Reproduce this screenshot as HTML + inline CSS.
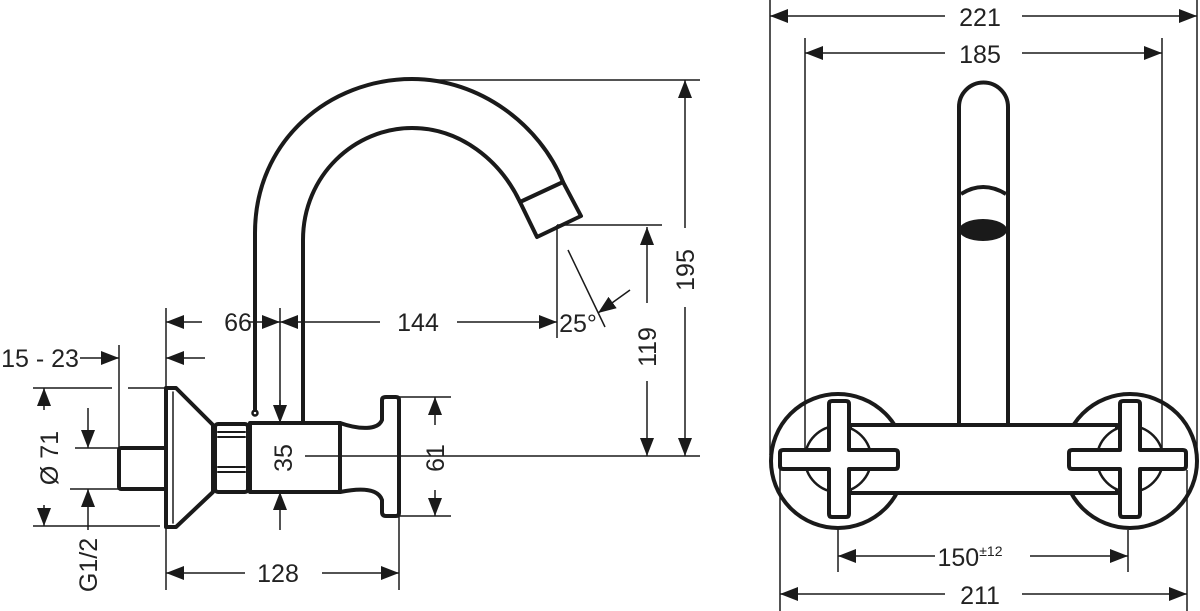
<!DOCTYPE html>
<html><head><meta charset="utf-8"><style>
html,body{margin:0;padding:0;background:#fff;}
svg{display:block;}
text{font-family:"Liberation Sans",sans-serif;font-size:25px;fill:#222;}
</style></head><body>
<svg width="1200" height="611" viewBox="0 0 1200 611" xmlns="http://www.w3.org/2000/svg">
<defs>
<marker id="a" viewBox="0 0 18 14" refX="18" refY="7" markerWidth="18" markerHeight="14" markerUnits="userSpaceOnUse" orient="auto"><path d="M0,0 L18,7 L0,14 Z" fill="#1a1a1a"/></marker>
</defs>
<g fill="none" stroke="#1a1a1a" stroke-width="4" stroke-linejoin="round" stroke-linecap="round">
<!-- spout -->
<path d="M255,410 L255,233 C255,140 330,79 412,79 C480,79 540,125 563,182"/>
<path d="M303,423 L303,240 C303,175 355,128 412,128 C460,128 500,160 520,202"/>
<path d="M520,202 L537,237 L581,216 L563,182 Z"/>
<circle cx="255" cy="413" r="2.5" stroke-width="2.5"/>
<!-- stub -->
<rect x="119" y="448" width="47" height="41" rx="2"/>
<!-- flange -->
<path d="M166,388 L176,388 L213,425 L213,492 L176,527 L166,527 Z"/>
<line x1="173" y1="392" x2="173" y2="523" stroke-width="1.5"/>
<!-- nut -->
<rect x="215" y="424" width="33" height="68" rx="3"/>
<line x1="218" y1="432" x2="245" y2="432" stroke-width="2"/>
<line x1="218" y1="437" x2="245" y2="437" stroke-width="2"/>
<line x1="218" y1="467" x2="245" y2="467" stroke-width="2"/>
<line x1="218" y1="472" x2="245" y2="472" stroke-width="2"/>
<!-- body -->
<rect x="250" y="423" width="90" height="69"/>
<path d="M340,423 C360,430 378,430 382,420 L382,400 Q382,397 386,397 L396,397 Q399,397 399,400 L399,513 Q399,516 396,516 L386,516 Q382,516 382,512 L382,500 C378,488 360,488 340,492"/>
</g>
<g stroke="#1a1a1a" stroke-width="1.5" fill="none">
<!-- left dims -->
<line x1="166" y1="308" x2="166" y2="388"/>
<line x1="166" y1="527" x2="166" y2="590"/>
<line x1="399" y1="517" x2="399" y2="590"/>
<line x1="280" y1="308" x2="280" y2="423"/>
<line x1="557" y1="225" x2="557" y2="338"/>
<line x1="557" y1="225" x2="662" y2="225"/>
<line x1="412" y1="80" x2="700" y2="80"/>
<line x1="305" y1="456" x2="700" y2="456"/>
<line x1="119" y1="345" x2="119" y2="448"/>
<line x1="33" y1="388" x2="112" y2="388"/>
<line x1="128" y1="388" x2="166" y2="388"/>
<line x1="33" y1="526" x2="160" y2="526"/>
<line x1="75" y1="448" x2="119" y2="448"/>
<line x1="70" y1="489" x2="119" y2="489"/>
<line x1="399" y1="397" x2="451" y2="397"/>
<line x1="399" y1="516" x2="451" y2="516"/>
<!-- 66 -->
<line x1="202" y1="322" x2="166" y2="322" marker-end="url(#a)"/>
<line x1="248" y1="322" x2="280" y2="322" marker-end="url(#a)"/>
<line x1="380" y1="322" x2="280" y2="322" marker-end="url(#a)"/>
<line x1="457" y1="322" x2="557" y2="322" marker-end="url(#a)"/>
<!-- 25 -->
<line x1="568" y1="250" x2="605" y2="327"/>
<line x1="630" y1="290" x2="598" y2="313" marker-end="url(#a)"/>
<!-- 15-23 -->
<line x1="80" y1="358" x2="119" y2="358" marker-end="url(#a)"/>
<line x1="205" y1="358" x2="166" y2="358" marker-end="url(#a)"/>
<!-- 35 -->
<line x1="280" y1="400" x2="280" y2="423" marker-end="url(#a)"/>
<line x1="280" y1="530" x2="280" y2="492" marker-end="url(#a)"/>
<!-- Ø71 -->
<line x1="44" y1="410" x2="44" y2="388" marker-end="url(#a)"/>
<line x1="44" y1="505" x2="44" y2="526" marker-end="url(#a)"/>
<!-- G1/2 -->
<line x1="88" y1="408" x2="88" y2="448" marker-end="url(#a)"/>
<line x1="88" y1="530" x2="88" y2="489" marker-end="url(#a)"/>
<!-- 61 -->
<line x1="435" y1="425" x2="435" y2="397" marker-end="url(#a)"/>
<line x1="435" y1="490" x2="435" y2="516" marker-end="url(#a)"/>
<!-- 128 -->
<line x1="245" y1="573" x2="166" y2="573" marker-end="url(#a)"/>
<line x1="322" y1="573" x2="399" y2="573" marker-end="url(#a)"/>
<!-- 119 -->
<line x1="647" y1="303" x2="647" y2="227" marker-end="url(#a)"/>
<line x1="647" y1="381" x2="647" y2="456" marker-end="url(#a)"/>
<!-- 195 -->
<line x1="685" y1="228" x2="685" y2="80" marker-end="url(#a)"/>
<line x1="685" y1="307" x2="685" y2="456" marker-end="url(#a)"/>
</g>
<text x="238" y="331" text-anchor="middle">66</text>
<text x="418" y="331" text-anchor="middle">144</text>
<text x="578" y="332" text-anchor="middle" font-size="22">25°</text>
<text x="40" y="367" text-anchor="middle">15 - 23</text>
<text x="278" y="582" text-anchor="middle">128</text>
<text transform="translate(292,458) rotate(-90)" text-anchor="middle">35</text>
<text transform="translate(58,458) rotate(-90)" text-anchor="middle">Ø 71</text>
<text transform="translate(97,565) rotate(-90)" text-anchor="middle">G1/2</text>
<text transform="translate(444,458) rotate(-90)" text-anchor="middle">61</text>
<text transform="translate(656,347) rotate(-90)" text-anchor="middle">119</text>
<text transform="translate(694,270) rotate(-90)" text-anchor="middle">195</text>

<!-- right view -->
<g stroke="#1a1a1a" stroke-width="1.5" fill="none">
<line x1="770" y1="0" x2="770" y2="455"/>
<line x1="1197" y1="0" x2="1197" y2="455"/>
<line x1="805" y1="38" x2="805" y2="455"/>
<line x1="1162" y1="38" x2="1162" y2="455"/>
<line x1="780" y1="470" x2="780" y2="611"/>
<line x1="1187" y1="470" x2="1187" y2="611"/>
<line x1="838" y1="530" x2="838" y2="572"/>
<line x1="1128" y1="530" x2="1128" y2="572"/>
<line x1="945" y1="16" x2="770" y2="16" marker-end="url(#a)"/>
<line x1="1022" y1="16" x2="1197" y2="16" marker-end="url(#a)"/>
<line x1="945" y1="53" x2="805" y2="53" marker-end="url(#a)"/>
<line x1="1022" y1="53" x2="1162" y2="53" marker-end="url(#a)"/>
<line x1="935" y1="556" x2="838" y2="556" marker-end="url(#a)"/>
<line x1="1030" y1="556" x2="1128" y2="556" marker-end="url(#a)"/>
<line x1="945" y1="594" x2="780" y2="594" marker-end="url(#a)"/>
<line x1="1022" y1="594" x2="1187" y2="594" marker-end="url(#a)"/>
</g>
<g fill="none" stroke="#1a1a1a" stroke-width="4" stroke-linejoin="round">
<path d="M959,425 L959,107 A24.5,24.5 0 0 1 1008,107 L1008,425"/>
<path d="M961,194 Q983,180 1006,194"/>
<circle cx="838" cy="461" r="67"/>
<circle cx="1130" cy="461" r="67"/>
<rect x="850" y="425" width="267" height="68" fill="#fff"/>
<circle cx="838" cy="459" r="33" fill="#fff" stroke-width="2.5"/>
<circle cx="1130" cy="459" r="33" fill="#fff" stroke-width="2.5"/>
<path d="M829,404 Q829,401 832,401 L846,401 Q849,401 849,404 L849,450 L895,450 Q898,450 898,453 L898,466 Q898,469 895,469 L849,469 L849,514 Q849,517 846,517 L832,517 Q829,517 829,514 L829,469 L783,469 Q780,469 780,466 L780,453 Q780,450 783,450 L829,450 Z" fill="#fff"/>
<path d="M1120,404 Q1120,401 1123,401 L1137,401 Q1140,401 1140,404 L1140,450 L1183,450 Q1186,450 1186,453 L1186,466 Q1186,469 1183,469 L1140,469 L1140,514 Q1140,517 1137,517 L1123,517 Q1120,517 1120,514 L1120,469 L1072,469 Q1069,469 1069,466 L1069,453 Q1069,450 1072,450 L1120,450 Z" fill="#fff"/>
</g>
<ellipse cx="983" cy="230" rx="24" ry="11" fill="#1a1a1a"/>
<text x="980" y="26" text-anchor="middle">221</text>
<text x="980" y="63" text-anchor="middle">185</text>
<text x="970" y="566" text-anchor="middle">150<tspan font-size="14" dy="-10">±12</tspan></text>
<text x="980" y="604" text-anchor="middle">211</text>
</svg>
</body></html>
